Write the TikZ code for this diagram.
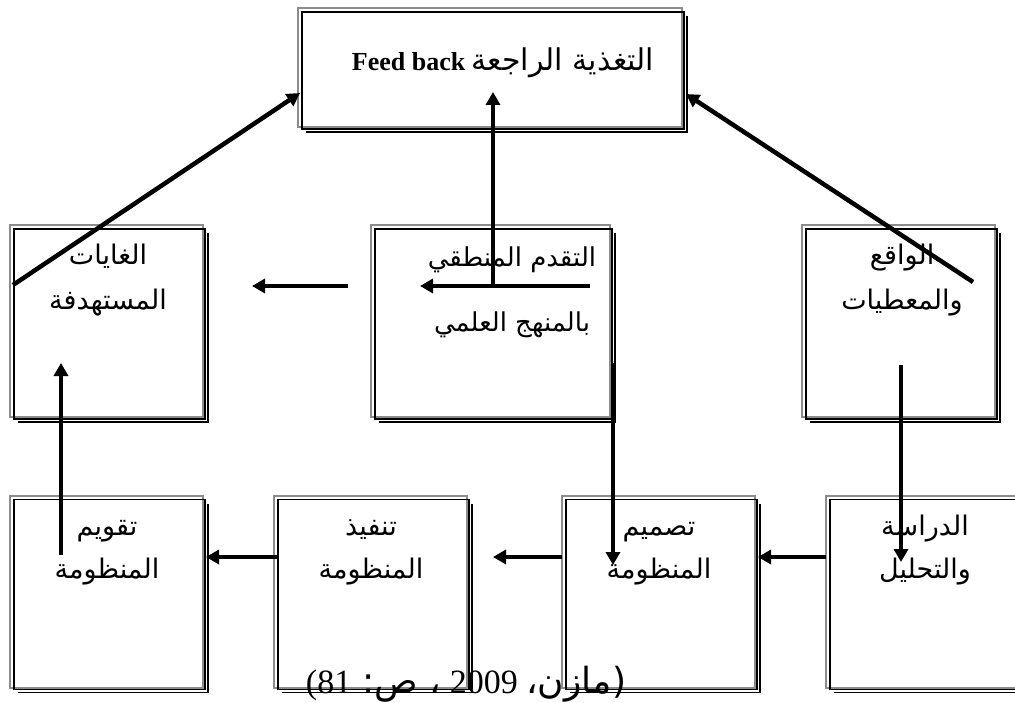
\documentclass[tikz,border=0pt]{standalone}
\usepackage{fontspec}
\setmainfont{Liberation Serif}
\newfontfamily\arabicfont[Script=Arabic]{DejaVu Sans}
\TeXXeTstate=1
\usetikzlibrary{arrows.meta,calc}
\newcommand\rtl[1]{\beginR#1\endR}
\newcommand\rlm{^^^^200f}

\tikzset{
  stagebox/.style={rectangle, inner sep=0pt, outer sep=0pt,
                   minimum width=193pt, minimum height=192pt},
  stagetext/.style={font=\arabicfont\fontsize{27}{45}\selectfont,
                    align=center, anchor=base, inner sep=0pt},
  flow/.style={line width=4.5pt, -{Triangle[length=13pt,width=14pt]}},
  rimgray/.style={draw=black!45, line width=2pt},
  rimblack/.style={draw=black, line width=1.3pt},
  rimshadow/.style={draw=black, line width=1.8pt},
}

\begin{document}
\begin{tikzpicture}[x=1pt,y=-1pt]
\clip (0,0) rectangle (1015,703);
\fill[white] (0,0) rectangle (1015,703);

% boxes
\node[stagebox, minimum width=384pt, minimum height=119pt] (fb) at (490,67.5) {};
\node[stagebox] (goals)   at (106.5,321) {};
\node[stagebox, minimum width=239pt] (logic) at (490.5,321) {};
\node[stagebox] (reality) at (898.5,321) {};
\node[stagebox] (evalb)   at (106.5,591.5) {};
\node[stagebox] (impl)    at (370.5,591.5) {};
\node[stagebox] (design)  at (658.5,591.5) {};
\node[stagebox] (study)   at (922.5,591.5) {};

% framed borders: grey rim, black rim and a drop line on the lower right
\foreach \n in {fb,goals,logic,reality,evalb,impl,design,study}{
  \draw[rimgray] (\n.north west) rectangle (\n.south east);
  \draw[rimblack] ([shift={(4,4)}]\n.north west) rectangle ([shift={(2,2)}]\n.south east);
  \draw[rimshadow] ([shift={(8,5)}]\n.south west) -| ([shift={(5,8)}]\n.north east);
}

% labels (anchored on the baseline of the last line)
\node[font=\fontsize{26}{30}\selectfont, anchor=base, inner sep=0pt] (fb-t) at (503,71)
  {\rtl{{\arabicfont\fontsize{30}{30}\selectfont التغذية الراجعة} \beginL\textbf{Feed back}\endL}};
\node[stagetext] (goals-t)   at (108,310) {\rtl{الغايات}\\\rtl{المستهدفة}};
\node[stagetext, font=\arabicfont\fontsize{26}{65}\selectfont] (logic-t) at (512,332)
  {\rtl{التقدم المنطقي}\\\rtl{بالمنهج العلمي}};
\node[stagetext] (reality-t) at (902,310) {\rtl{الواقع}\\\rtl{والمعطيات}};
\node[stagetext, font=\arabicfont\fontsize{27}{43}\selectfont] (evalb-t)  at (107,578) {\rtl{تقويم}\\\rtl{المنظومة}};
\node[stagetext, font=\arabicfont\fontsize{27}{43}\selectfont] (impl-t)   at (371,578) {\rtl{تنفيذ}\\\rtl{المنظومة}};
\node[stagetext, font=\arabicfont\fontsize{27}{43}\selectfont] (design-t) at (659,578) {\rtl{تصميم}\\\rtl{المنظومة}};
\node[stagetext, font=\arabicfont\fontsize{27}{43}\selectfont] (study-t)  at (925,578) {\rtl{الدراسة}\\\rtl{والتحليل}};

% source line
\node[font=\fontsize{34}{36}\selectfont, anchor=base, inner sep=0pt] (src) at (466,693)
  {\rtl{{\arabicfont\fontsize{36}{36}\selectfont\rlm(مازن،} 2009 {\arabicfont\fontsize{36}{36}\selectfont ، ص:} 81)\rlm}};

% connector end points
\coordinate (g-out)  at (13,285);
\coordinate (r-out)  at (973,282);
\coordinate (low)    at (0,557);
\coordinate (a4s)    at (348,286);
\coordinate (a4e)    at (252,286);
\coordinate (a5s)    at (590,286);
\coordinate (a5e)    at (420,286);
\coordinate (upS)    at (493,286);
\coordinate (upE)    at (493,92);
\coordinate (l-down) at (613,363);
\coordinate (l-tip)  at (613,565);
\coordinate (r-down) at (901,365);
\coordinate (r-tip)  at (901,562);
\coordinate (a9e)    at (493,557);
\coordinate (e-up)   at (61,555);
\coordinate (e-tip)  at (61,363);

% connectors
\draw[flow] (g-out) -- ([xshift=2pt]fb.west |- 0,93);
\draw[flow] (r-out) -- ([xshift=4pt]fb.east |- 0,94);
\draw[flow] (upS) -- (upE);
\draw[flow] (a4s) -- (a4e);
\draw[flow] (a5s) -- (a5e);
\draw[flow] (l-down) -- (l-tip);
\draw[flow] (r-down) -- (r-tip);
\draw[flow] (study.west |- low) -- ([xshift=3pt]design.east |- low);
\draw[flow] (design.west |- low) -- (a9e);
\draw[flow] ([xshift=3pt]impl.west |- low) -- ([xshift=3pt]evalb.east |- low);
\draw[flow] (e-up) -- (e-tip);
\end{tikzpicture}
\end{document}
